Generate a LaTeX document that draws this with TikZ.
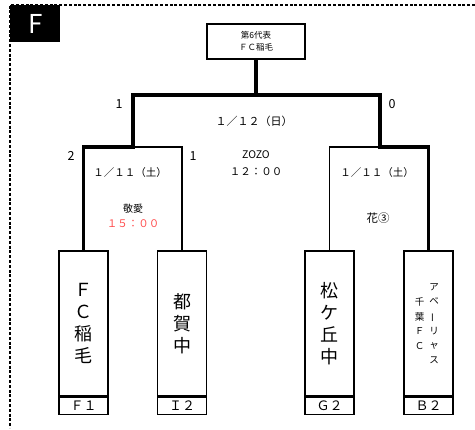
\documentclass[tikz,border=0pt]{standalone}
\usepackage{fontspec}
\setmainfont{Noto Sans CJK JP}
\usetikzlibrary{positioning}
\definecolor{timered}{RGB}{255,75,75}
\tikzset{
  team/.style={draw, line width=1.4pt, minimum width=49, minimum height=145, inner sep=0pt, align=center, font=\fontsize{18}{22}\selectfont},
  cell/.style={draw, line width=1.4pt, minimum width=49, minimum height=17, inner sep=0pt, font=\fontsize{13}{13}\selectfont},
  narrow/.style={inner sep=0pt, align=center, font=\fontsize{9.5}{14.6}\selectfont},
  wline/.style={line width=3.3pt},
  lline/.style={line width=1.3pt},
  info/.style={inner sep=0pt, font=\fontsize{10.5}{10.5}\selectfont},
  score/.style={inner sep=0pt, font=\fontsize{12.5}{12.5}\selectfont},
}
\begin{document}
\begin{tikzpicture}[x=1pt,y=-1pt]
        \useasboundingbox (0,0) rectangle (475,430);
        \draw[line width=2pt, dash pattern=on 3pt off 1.8pt] (475,5) -- (10,5) -- (10,428);
        \node[fill=black, text=white, anchor=north west, minimum width=50, minimum height=37, inner sep=0pt, font=\fontsize{26}{26}\selectfont] (tag) at (10,5) {F};
        \node[draw, line width=1.4pt, minimum width=98, minimum height=35, inner sep=0pt, align=center, font=\fontsize{8.5}{12.5}\selectfont] (champ) at (256,41.5) {第6代表\\ＦＣ稲毛};
        \node[team] (t1) at (83.5,323.5) {Ｆ\\Ｃ\\稲\\毛};
        \node[team] (t2) at (182,323.5) {都\\賀\\中};
        \node[team] (t3) at (329.5,323.5) {松\\ケ\\丘\\中};
        \node[team] (t4) at (428.5,323.5) {};
        \node[narrow] (t4r) at ([xshift=5.5]t4.center) {ア\\ベ\\\rotatebox[origin=c]{90}{ー}\\リ\\ャ\\ス};
        \node[narrow] (t4l) at ([xshift=-9]t4.center) {千\\葉\\Ｆ\\Ｃ};
        \node[cell, below=0pt of t1] (c1) {Ｆ１};
        \node[cell, below=0pt of t2] (c2) {Ｉ２};
        \node[cell, below=0pt of t3] (c3) {Ｇ２};
        \node[cell, below=0pt of t4] (c4) {Ｂ２};
        \coordinate (m1) at (133,147);
        \coordinate (m2) at (380,147);
        \coordinate (fin) at (256,95);
        \draw[wline] (t1.north) |- (m1) |- (fin) -- (champ.south);
        \draw[wline] (t4.north) |- (m2) |- (fin);
        \draw[lline] (m1) -| (t2.north);
        \draw[lline] (m2) -| (t3.north);
        \node[score] (s1) at (119,104) {1};
        \node[score] (s2) at (392,104) {0};
        \node[score] (s3) at (71,156) {2};
        \node[score] (s4) at (193,156) {1};
        \node[info, font=\fontsize{11}{11}\selectfont] (day2) at (254,121) {１／１２（日）};
        \node[info] (venue2) at (256,155) {ZOZO};
        \node[info] (time2) at (256,172) {１２：００};
        \node[info] (day1) at (130,173) {１／１１（土）};
        \node[info, font=\fontsize{10}{10}\selectfont] (venue1) at (133,209) {敬愛};
        \node[info, text=timered] (time1) at (133,224) {１５：００};
        \node[info] (day3) at (377,173) {１／１１（土）};
        \node[info, font=\fontsize{11.5}{11.5}\selectfont] (venue3) at (378,218) {花③};
\end{tikzpicture}
\end{document}
